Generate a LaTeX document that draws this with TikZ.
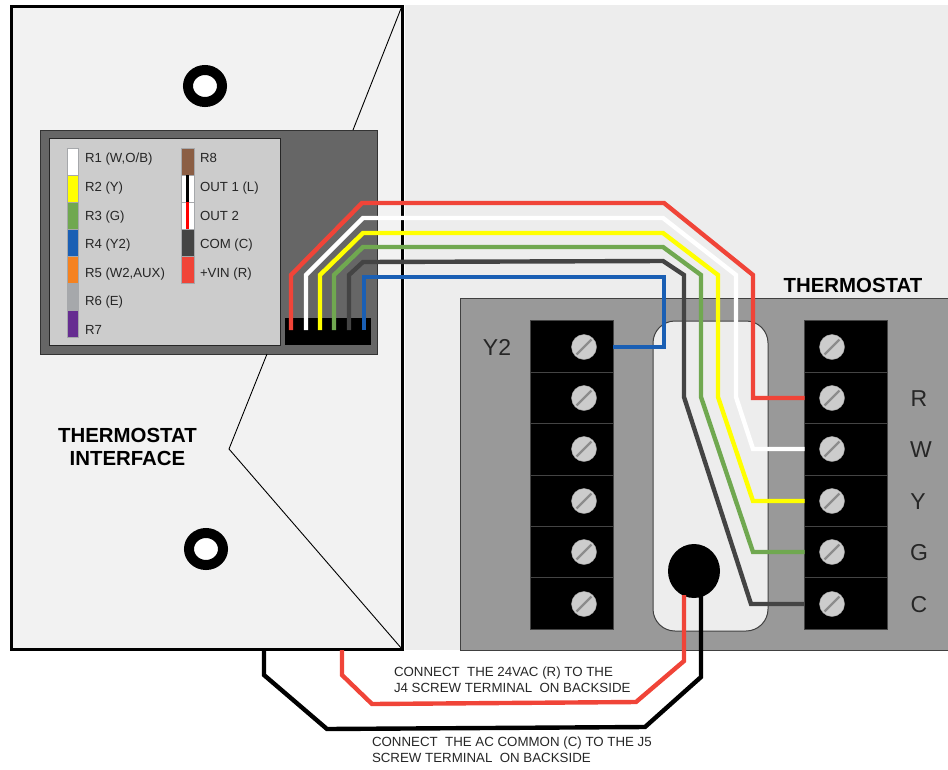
\documentclass[tikz,border=0pt]{standalone}
\usepackage{xcolor}
\usepackage{fontspec}
\setmainfont{Liberation Sans}
\usepackage{tikz}
\usetikzlibrary{positioning, shapes.geometric}
\definecolor{WireRed}{HTML}{F04438}
\definecolor{WireYellow}{HTML}{FFFF00}
\definecolor{WireGreen}{HTML}{70A850}
\definecolor{WireBlue}{HTML}{1A5FB4}
\definecolor{WireOrange}{HTML}{F58220}
\definecolor{WireGray}{HTML}{A6A8AB}
\definecolor{WirePurple}{HTML}{662D91}
\definecolor{WireBrown}{HTML}{8B5E44}
\definecolor{WireDark}{HTML}{444444}
\definecolor{LabelGray}{HTML}{262626}
\tikzset{
  every node/.style={align=center, inner sep=0pt, outer sep=0pt},
  box/.style={draw, anchor=north west, minimum width=#1},
  swatch/.style={draw=WireGray, line width=0.8pt, minimum width=11pt, minimum height=27pt},
  swatchwide/.style={draw=WireGray, line width=0.8pt, minimum width=13pt, minimum height=27pt},
  legendtext/.style={anchor=west, text=LabelGray, font=\fontsize{13.2pt}{15pt}\selectfont},
  bigtext/.style={text=LabelGray, font=\fontsize{23pt}{25pt}\selectfont},
  titletext/.style={text=black, font=\fontsize{20.4pt}{23pt}\selectfont\bfseries},
  notetext/.style={anchor=north west, align=left, text=LabelGray, font=\fontsize{13.3pt}{16pt}\selectfont},
  cell/.style={draw=WireDark, fill=black, line width=1pt, minimum width=83pt, minimum height=51.4pt},
  screwhead/.style={circle, fill=black!20, draw=black!35, line width=0.4pt, minimum size=25pt},
  hole/.style={ellipse, draw=black, fill=white, line width=10pt, minimum width=34pt, minimum height=32pt},
  wire/.style={line width=4.4pt, draw=#1, line join=miter},
}
\newcommand{\screw}[2]{%
  \node[screwhead] (#1) at (#2) {};
  \draw[black!45, line width=2.4pt, shorten <=2pt, shorten >=2pt] (#1.south west) -- (#1.north east);
}
\begin{document}
\begin{tikzpicture}[x=1pt, y=-1pt]
  \useasboundingbox (0,0) rectangle (948,769);
  % Housings
  \node[box=543pt, fill=black!7, minimum height=645pt, draw=none] (backdrop) at (405,5) {};
  \node[box=391pt, fill=black!5, minimum height=643pt, line width=3pt] (panel) at (11,6) {};
  \node[box=337pt, fill=black!60, minimum height=224pt, line width=1pt, draw=black!80] (module) at (40,130) {};
  \node[box=231pt, fill=black!20, minimum height=207pt, line width=1pt, draw=black!85] (legend) at (49,138) {};
  \node[box=86pt, fill=black, minimum height=27pt, draw=none] (strip) at (285,318) {};
  \node[box=488pt, fill=black!40, minimum height=352pt, line width=1pt, draw=black!75] (plate) at (460,298) {};
  \node[box=115pt, fill=black!7, minimum height=310pt, line width=1pt, draw=black!75, rounded corners=22pt] (window) at (653,321) {};
  % Fold lines
  \draw[line width=0.9pt] (panel.north east) -- (module.north -| 353,0);
  \draw[line width=0.9pt] (module.south -| 267,0) -- (229,449) -- (panel.south east);
  % Mounting holes
  \node[hole] (holeTop) at (205,86) {};
  \node[hole] (holeBottom) at (206,549) {};
  % Legend, first column
  \node[swatch, fill=white] (swatchA) at (72.5,161.5) {};
  \node[swatch, fill=WireYellow, below=0pt of swatchA] (swatchB) {};
  \node[swatch, fill=WireGreen, below=0pt of swatchB] (swatchC) {};
  \node[swatch, fill=WireBlue, below=0pt of swatchC] (swatchD) {};
  \node[swatch, fill=WireOrange, below=0pt of swatchD] (swatchE) {};
  \node[swatch, fill=WireGray, below=0pt of swatchE] (swatchF) {};
  \node[swatch, fill=WirePurple, below=0pt of swatchF] (swatchG) {};
  \node[legendtext] (textA) at (85,159) {R1 (W,O/B)};
  \node[legendtext] (textB) at (85,188) {R2 (Y)};
  \node[legendtext] (textC) at (85,217) {R3 (G)};
  \node[legendtext] (textD) at (85,245) {R4 (Y2)};
  \node[legendtext] (textE) at (85,274) {R5 (W2,AUX)};
  \node[legendtext] (textF) at (85,302) {R6 (E)};
  \node[legendtext] (textG) at (85,330) {R7};
  % Legend, second column
  \node[swatchwide, fill=WireBrown] (swatchH) at (187.5,161.5) {};
  \node[swatchwide, fill=white, below=0pt of swatchH] (swatchI) {};
  \node[swatchwide, fill=white, below=0pt of swatchI] (swatchJ) {};
  \node[swatchwide, fill=WireDark, below=0pt of swatchJ] (swatchK) {};
  \node[swatchwide, fill=WireRed, below=0pt of swatchK] (swatchL) {};
  \draw[black, line width=3.5pt] (swatchI.north) -- (swatchI.south);
  \draw[red, line width=3.5pt] (swatchJ.north) -- (swatchJ.south);
  \node[legendtext] (textH) at (200,158) {R8};
  \node[legendtext] (textI) at (200,188) {OUT 1 (L)};
  \node[legendtext] (textJ) at (200,216) {OUT 2};
  \node[legendtext] (textK) at (200,245) {COM (C)};
  \node[legendtext] (textL) at (200,274) {+VIN (R)};
  % Terminal blocks
  \node[cell] (cellYtwo) at (571.5,346.5) {};
  \node[cell, below=0pt of cellYtwo] (cellLb) {};
  \node[cell, below=0pt of cellLb] (cellLc) {};
  \node[cell, below=0pt of cellLc] (cellLd) {};
  \node[cell, below=0pt of cellLd] (cellLe) {};
  \node[cell, below=0pt of cellLe] (cellLf) {};
  \node[cell] (cellTop) at (846,346.5) {};
  \node[cell, below=0pt of cellTop] (cellR) {};
  \node[cell, below=0pt of cellR] (cellW) {};
  \node[cell, below=0pt of cellW] (cellY) {};
  \node[cell, below=0pt of cellY] (cellG) {};
  \node[cell, below=0pt of cellG] (cellC) {};
  \screw{screwYtwo}{584,347}
  \screw{screwLb}{584,398}
  \screw{screwLc}{584,449}
  \screw{screwLd}{584,501}
  \screw{screwLe}{584,552}
  \screw{screwLf}{584,604}
  \screw{screwTop}{832,347}
  \screw{screwR}{832,398}
  \screw{screwW}{832,449}
  \screw{screwY}{832,501}
  \screw{screwG}{832,552}
  \screw{screwC}{832,604}
  % Terminal letters
  \node[bigtext] (labelYtwo) at (497,347) {Y2};
  \node[bigtext] (labelR) at (919,399) {R};
  \node[bigtext] (labelW) at (921,450) {W};
  \node[bigtext] (labelY) at (918,502) {Y};
  \node[bigtext] (labelG) at (919,553) {G};
  \node[bigtext] (labelC) at (919,605) {C};
  % Titles
  \node[titletext] (titleThermostat) at (853,285) {THERMOSTAT};
  \node[titletext] (titleInterface) at (127.5,447) {THERMOSTAT\\INTERFACE};
  % Bulb
  \node[ellipse, fill=black, minimum width=52pt, minimum height=54pt] (bulb) at (694,571) {};
  % Pins
  \coordinate (pinR) at (291,330);
  \coordinate (pinW) at (306,330);
  \coordinate (pinY) at (320,330);
  \coordinate (pinG) at (334,330);
  \coordinate (pinC) at (349,330);
  \coordinate (pinB) at (364,330);
  \coordinate (lugRed) at (684,595);
  \coordinate (lugBlack) at (701,595);
  \coordinate (backRed) at (342,650);
  \coordinate (backBlack) at (264,650);
  % Wires
  \draw[wire=WireDark] (pinC) -- (349,275) -- (363,262) -- (663,261) -- (684,275) -- (684,397) -- (751,604) -- (cellC.west |- screwC);
  \draw[wire=WireGreen] (pinG) -- (334,275) -- (363,247) -- (663,247) -- (701,275) -- (701,397) -- (753,552) -- (cellG.west |- screwG);
  \draw[wire=WireYellow] (pinY) -- (320,275) -- (363,233) -- (663,233) -- (718,275) -- (718,397) -- (753,501) -- (cellY.west |- screwY);
  \draw[wire=white] (pinW) -- (306,275) -- (363,218) -- (663,218) -- (736,275) -- (736,397) -- (753,449) -- (cellW.west |- screwW);
  \draw[wire=WireRed] (pinR) -- (291,275) -- (362,203) -- (664,203) -- (753,275) -- (753,398) -- (cellR.west |- screwR);
  \draw[wire=WireBlue] (pinB) -- (364,277) -- (664,277) -- (664,347) -- (cellYtwo.east |- screwYtwo);
  \draw[wire=WireRed] (lugRed) -- (684,661) -- (636,702) -- (372,704) -- (342,675) -- (backRed);
  \draw[wire=black] (lugBlack) -- (701,677) -- (645,727) -- (327,729) -- (264,675) -- (backBlack);
  % Notes
  \node[notetext] (noteRed) at (394,667) {CONNECT\ \ THE 24VAC (R) TO THE\\J4 SCREW TERMINAL\ \ ON BACKSIDE};
  \node[notetext] (noteBlack) at (372,737) {CONNECT\ \ THE AC COMMON (C) TO THE J5\\SCREW TERMINAL\ \ ON BACKSIDE};
\end{tikzpicture}
\end{document}
